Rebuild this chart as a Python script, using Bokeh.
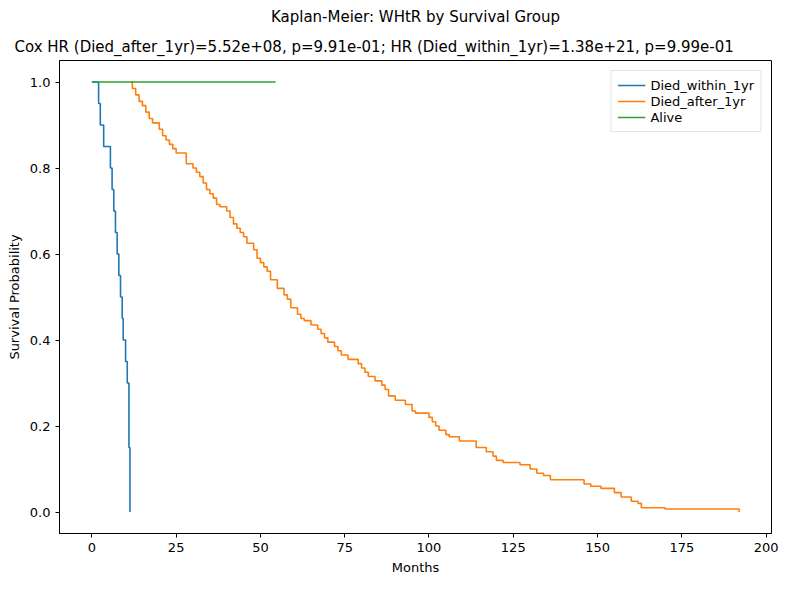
from bokeh.plotting import figure
from bokeh.models import Title, Range1d, FixedTicker, Legend, CustomJSTickFormatter
from bokeh.embed import file_html
from bokeh.resources import INLINE

# Died_within_1yr
within_t = [0, 2, 2.5, 3.5, 5.5, 6, 6.5, 7, 7.5, 8, 8.5, 9, 9.3, 10, 10.5, 11, 11.3]
within_s = [1.0, 0.95, 0.9, 0.85, 0.8, 0.75, 0.7, 0.65, 0.6, 0.55, 0.5, 0.45, 0.4, 0.35, 0.3, 0.15, 0.0]

# Died_after_1yr
after_t = [11.5, 12, 13, 14, 15, 16, 17, 18, 20, 21, 22, 23, 24, 25, 28, 30, 31, 32, 33, 34, 35,
           36, 37, 38, 40, 41, 42, 43, 44, 45, 46, 48, 49, 50, 51, 52, 53, 55, 57, 58, 59, 61,
           62, 63, 65, 67, 68, 69, 70, 72, 73, 74, 76, 79, 80, 81, 82, 84, 86, 87, 88, 90, 93,
           95, 96, 100, 101, 102, 103, 105, 106, 109, 114, 117, 119, 120, 122, 127, 130, 132,
           134, 136, 146, 148, 151, 155, 157, 160, 162, 163, 170, 175, 192, 192]
after_s = [1.0, 0.985, 0.97, 0.955, 0.945, 0.93, 0.915, 0.905, 0.89, 0.875, 0.865, 0.855, 0.845,
           0.835, 0.81, 0.80, 0.79, 0.78, 0.765, 0.75, 0.74, 0.73, 0.715, 0.71, 0.70, 0.685,
           0.67, 0.66, 0.65, 0.64, 0.625, 0.61, 0.59, 0.58, 0.57, 0.56, 0.54, 0.52, 0.505,
           0.495, 0.475, 0.46, 0.45, 0.445, 0.435, 0.425, 0.415, 0.405, 0.395, 0.385, 0.375,
           0.365, 0.355, 0.345, 0.335, 0.325, 0.315, 0.305, 0.295, 0.285, 0.27, 0.26, 0.25,
           0.235, 0.23, 0.22, 0.21, 0.2, 0.19, 0.18, 0.175, 0.165, 0.15, 0.14, 0.13, 0.12,
           0.115, 0.11, 0.1, 0.09, 0.085, 0.075, 0.065, 0.06, 0.055, 0.045, 0.035, 0.025,
           0.02, 0.01, 0.007, 0.007, 0.0]

# Alive
alive_t = [0, 54.5]
alive_s = [1.0, 1.0]

FONT = "DejaVu Sans"

p = figure(width=792, height=584, output_backend="svg", toolbar_location=None,
           x_range=Range1d(-9.6, 201.6), y_range=Range1d(-0.05, 1.05),
           min_border_left=59, min_border_right=21, min_border_bottom=51, min_border_top=0,
           x_axis_label="Months", y_axis_label="Survival Probability")

p.title.text = "Kaplan-Meier: WHtR by Survival Group"
p.title.align = "center"
p.title.text_font = FONT
p.title.text_font_size = "15px"
p.title.text_font_style = "normal"
p.title.text_color = "black"
p.add_layout(Title(text="Cox HR (Died_after_1yr)=5.52e+08, p=9.91e-01; HR (Died_within_1yr)=1.38e+21, p=9.99e-01",
                   align="left", offset=-45, text_color="black",
                   text_font=FONT, text_font_size="15px", text_font_style="normal"), "above")

r1 = p.step(within_t, within_s, mode="after", color="#1f77b4", line_width=1.6)
r2 = p.step(after_t, after_s, mode="after", color="#ff7f0e", line_width=1.6)
r3 = p.line(alive_t, alive_s, color="#2ca02c", line_width=1.6)

legend = Legend(items=[("Died_within_1yr", [r1]), ("Died_after_1yr", [r2]), ("Alive", [r3])],
                location="top_right", label_text_font=FONT, label_text_font_size="13px",
                label_text_color="black",
                border_line_color="#cccccc", spacing=0, padding=6, glyph_width=28,
                label_height=16, glyph_height=16)
p.add_layout(legend)

p.xgrid.visible = False
p.ygrid.visible = False
p.outline_line_color = "black"
p.xaxis.ticker = FixedTicker(ticks=[0, 25, 50, 75, 100, 125, 150, 175, 200])
p.yaxis.ticker = FixedTicker(ticks=[0, 0.2, 0.4, 0.6, 0.8, 1.0])
p.yaxis.formatter = CustomJSTickFormatter(code="return tick.toFixed(1)")
for ax in (p.xaxis, p.yaxis):
    ax.major_label_text_font = FONT
    ax.major_label_text_font_size = "13px"
    ax.major_label_text_color = "black"
    ax.axis_label_text_font = FONT
    ax.axis_label_text_font_size = "13px"
    ax.axis_label_text_font_style = "normal"
    ax.axis_label_text_color = "black"
    ax.minor_tick_line_color = None
    ax.major_tick_in = 0
    ax.major_tick_out = 4
    ax.axis_line_color = "black"
    ax.major_tick_line_color = "black"

open("out.html", "w").write(file_html(p, INLINE))
